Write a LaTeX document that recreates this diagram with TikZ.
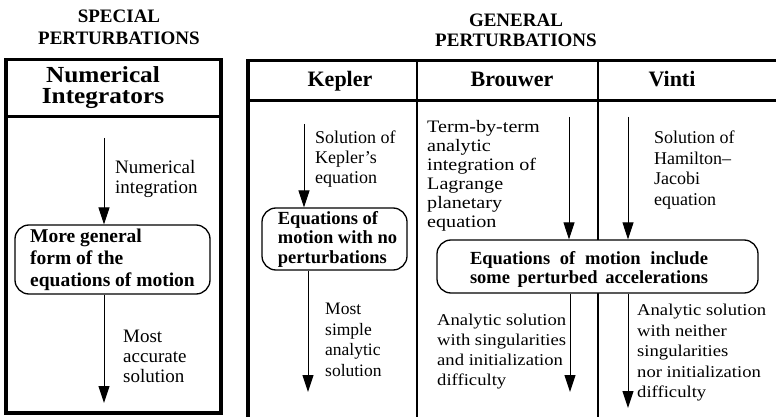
\documentclass[tikz,border=0pt]{standalone}
\usepackage{fontspec}
\setmainfont{Liberation Serif}
\newfontfamily\widefont{Liberation Serif}[FakeStretch=1.13]
\newfontfamily\widerfont{Liberation Serif}[FakeStretch=1.15]
\newfontfamily\headfont{Liberation Serif}[FakeStretch=1.1]
\usetikzlibrary{arrows.meta}
\newcommand\fsz[2]{\fontsize{#1pt}{#2pt}\selectfont}
\begin{document}
\begin{tikzpicture}[x=1pt,y=-1pt,
  frame/.style={line width=3.8pt},
  divider/.style={line width=2.8pt},
  rbox/.style={draw, line width=1.3pt, rounded corners=14pt, fill=white, inner sep=0pt, align=left},
  flow/.style={line width=1pt, -{Triangle[width=11pt,length=17pt]}},
  lbl/.style={anchor=north west, align=left, inner sep=0pt},
  title/.style={anchor=north, align=center, inner sep=0pt},
  head/.style={anchor=base, inner sep=0pt, font=\bfseries\fsz{22}{24}},
]
\clip (0,0) rectangle (776,417);
\fill[white] (0,0) rectangle (776,417);

% frames
\draw[frame] (6,59.5) rectangle (221,413);
\draw[frame] (6,116.5) -- (221,116.5);
\draw[frame] (248,60.5) rectangle (790,430);
\draw[frame] (248,100.5) -- (790,100.5);
\draw[divider] (417,60.5) -- (417,430);
\draw[divider] (598,60.5) -- (598,430);

% titles
\node[title, font=\bfseries\fsz{19}{22}] (tspecial) at (119,10) {SPECIAL\\PERTURBATIONS};
\node[title, font=\bfseries\fsz{19}{19.5}] (tgeneral) at (516,14) {GENERAL\\PERTURBATIONS};

% column headers
\node[title, font=\headfont\bfseries\fsz{23}{21.5}] (hnum) at (103,66) {Numerical\\Integrators};
\node[head] (hkep) at (340,87) {Kepler};
\node[head] (hbro) at (512,87) {Brouwer};
\node[head] (hvin) at (672,87) {Vinti};

% rounded boxes
\node[rbox, minimum width=195pt, minimum height=69pt, font=\bfseries\fsz{19.5}{22}] (lbox) at (112.5,259.5) {More general\\form of the\\equations of motion};
\node[rbox, minimum width=145pt, minimum height=62pt, font=\bfseries\fsz{18.5}{19.5}] (kbox) at (334.5,239) {\hspace*{6pt}Equations of\\\hspace*{6pt}motion with no\\\hspace*{6pt}perturbations};
\node[rbox, minimum width=321pt, minimum height=53pt] (bbox) at (597.5,266.5) {};
\node[inner sep=0pt, align=center, font=\bfseries\fsz{18.5}{19}] (btext) at (589,269.5) {\makebox[238pt][s]{Equations of motion include}\\\makebox[238pt][s]{some perturbed accelerations}};

% labels
\node[lbl, font=\fsz{19}{20}] (l1) at (115,160) {Numerical\\integration};
\node[lbl, font=\fsz{19}{20}] (l2) at (123,330) {Most\\accurate\\solution};
\node[lbl, font=\fsz{18}{20}] (k1) at (315,131) {Solution of\\Kepler's\\equation};
\node[lbl, font=\fsz{17.5}{20.5}] (k2) at (325,303) {Most\\simple\\analytic\\solution};
\node[lbl, font=\widerfont\fsz{17.5}{19}] (b1) at (427,120.5) {Term-by-term\\analytic\\integration of\\Lagrange\\planetary\\equation};
\node[lbl, font=\widefont\fsz{16.5}{20}] (b2) at (437,314) {Analytic solution\\with singularities\\and initialization\\difficulty};
\node[lbl, font=\fsz{18}{20.5}] (v1) at (654,131) {Solution of\\Hamilton--\\Jacobi\\equation};
\node[lbl, font=\widefont\fsz{16.5}{20.5}] (v2) at (637,304) {Analytic solution\\with neither\\singularities\\nor initialization\\difficulty};

% arrows
\coordinate (a1s) at (104,138); \coordinate (a1e) at (104,403);
\coordinate (k1s) at (304,124); \coordinate (k1e) at (308,392);
\coordinate (b1s) at (569,117); \coordinate (b1e) at (570,392);
\coordinate (v1s) at (628,117); \coordinate (v1e) at (628,408);
\draw[flow] (a1s) -- (a1s |- lbox.north);
\draw[flow] (lbox.south -| a1e) -- (a1e);
\draw[flow] (k1s) -- (k1s |- kbox.north);
\draw[flow] (kbox.south -| k1e) -- (k1e);
\draw[flow] (b1s) -- (b1s |- bbox.north);
\draw[flow] (bbox.south -| b1e) -- (b1e);
\draw[flow] (v1s) -- (v1s |- bbox.north);
\draw[flow] (bbox.south -| v1e) -- (v1e);
\end{tikzpicture}
\end{document}
